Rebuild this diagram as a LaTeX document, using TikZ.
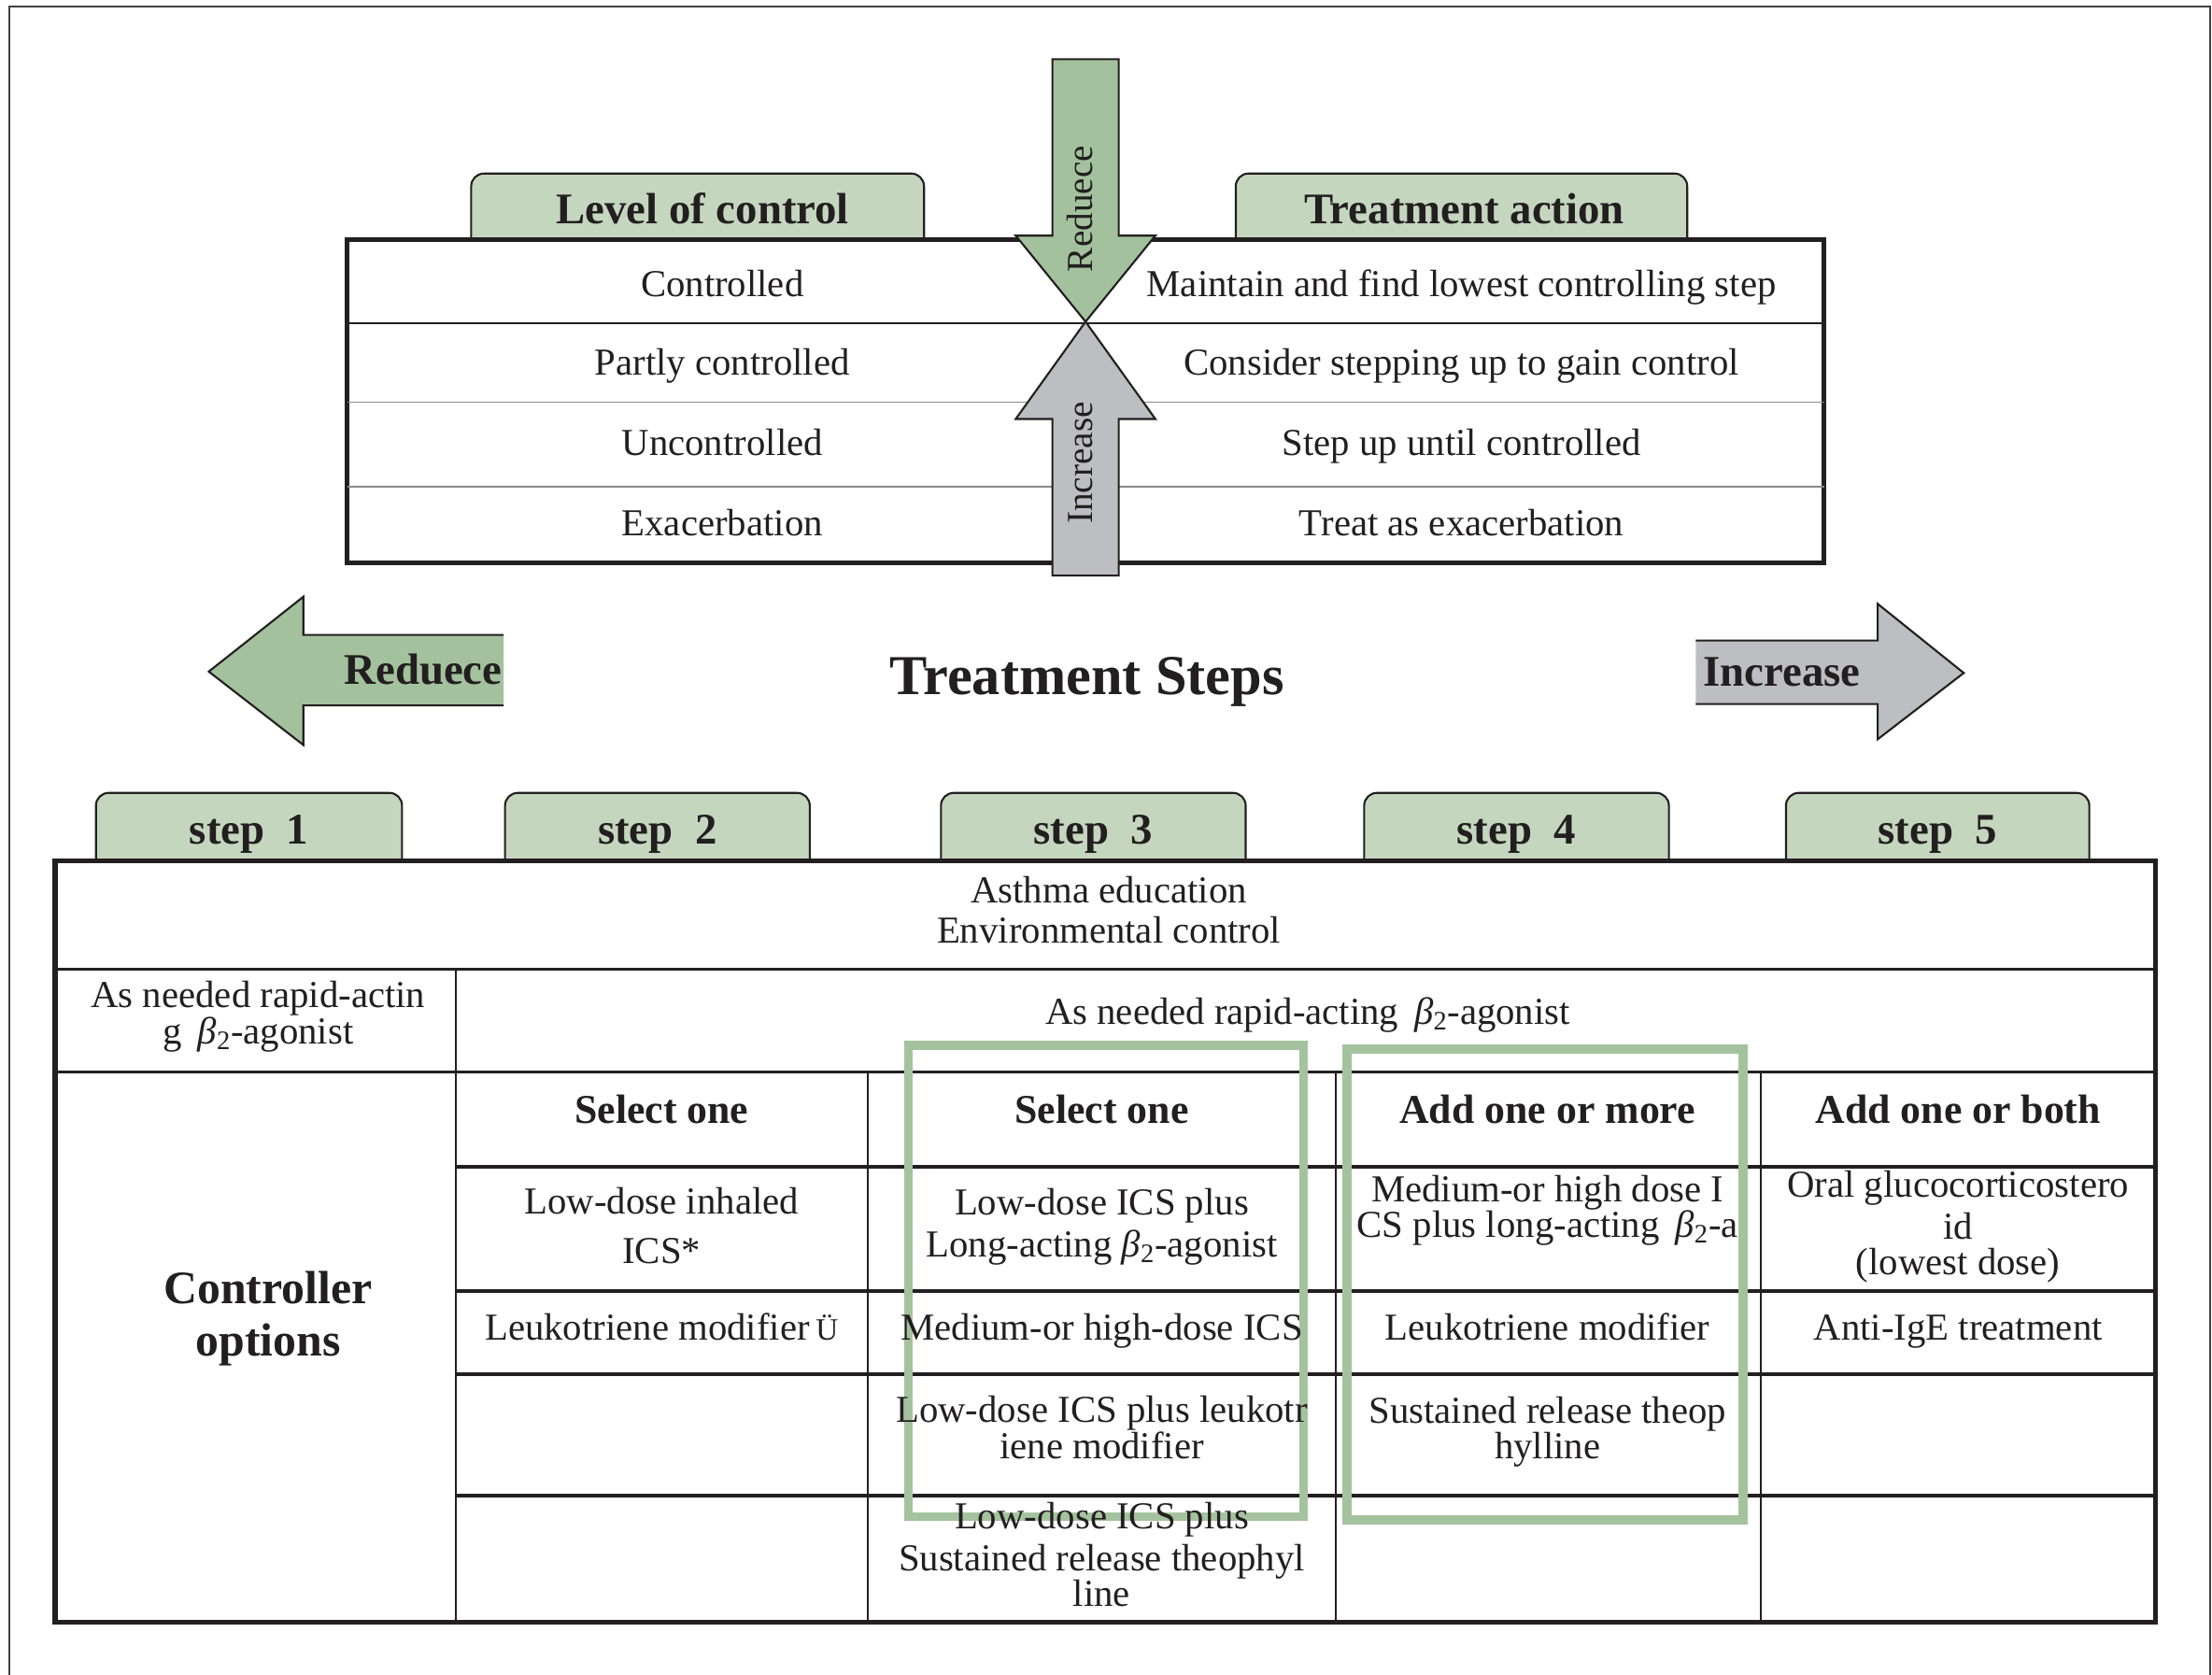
\documentclass[tikz,border=0pt]{standalone}
\usepackage{fontspec}
\setmainfont{Liberation Serif}
\definecolor{tabgreen}{HTML}{C5D6BF}
\definecolor{arrgreen}{HTML}{A3C19D}
\definecolor{arrgray}{HTML}{BDBEC2}
\definecolor{ink}{HTML}{231F20}
\definecolor{boxgreen}{HTML}{A5C29E}
\definecolor{midgray}{HTML}{8A8A8A}
\newcommand{\btwo}{\textit{β}\textsubscript{2}}
\tikzset{
  frame/.style={draw=black!75, line width=1.2pt},
  tabshape/.style={fill=tabgreen, draw=ink, line width=1.4pt, rounded corners=9pt},
  arrowshape/.style={draw=ink, line width=1.4pt},
  norm/.style={text=ink, inner sep=0pt, align=center, font=\fontsize{27}{29}\selectfont},
  oneline/.style={norm, text height=17.8pt, text depth=0pt},
  vlabel/.style={text=ink, inner sep=0pt, font=\fontsize{26}{28}\selectfont, text height=17.2pt, text depth=0pt, rotate=90},
  tabhdr/.style={text=ink, inner sep=0pt, font=\bfseries\fontsize{31}{33}\selectfont, text height=20.5pt, text depth=0pt},
  colhdr/.style={text=ink, inner sep=0pt, font=\bfseries\fontsize{29}{31}\selectfont, text height=19.1pt, text depth=0pt},
  hline/.style={draw=ink, line width=2.2pt},
  vline/.style={draw=ink, line width=1.5pt},
  greenbox/.style={draw=boxgreen, line width=6.5pt},
}
\begin{document}
\begin{tikzpicture}[x=1pt,y=-1pt]
\useasboundingbox (0,0) rectangle (1568,1187);
% outer frame (open at bottom)
\draw[frame] (6.6,1187) -- (6.6,4.6) -- (1566.6,4.6) -- (1566.6,1187);

% ---------- top table ----------
\filldraw[tabshape] (334,172) -- (334,123) -- (655,123) -- (655,172);
\filldraw[tabshape] (876,172) -- (876,123) -- (1196,123) -- (1196,172);
\filldraw[fill=white, draw=ink, line width=3pt] (246,170) rectangle (1293,399);
\draw[ink, line width=1pt] (246,229) -- (1293,229);
\draw[midgray, line width=1pt] (246,285) -- (1293,285);
\draw[midgray, line width=1pt] (246,345) -- (1293,345);

\filldraw[arrowshape, fill=arrgreen] (746,42) -- (793,42) -- (793,167) -- (819,167) -- (769.5,228) -- (720,167) -- (746,167) -- cycle;
\filldraw[arrowshape, fill=arrgray] (769.5,228) -- (819,297) -- (793,297) -- (793,408) -- (746,408) -- (746,297) -- (720,297) -- cycle;
\node[vlabel] (vred) at (766,148) {Reduece};
\node[vlabel] (vinc) at (766,328) {Increase};

\node[tabhdr] (loc) at (498,148) {Level of control};
\node[tabhdr] (ta) at (1038,148) {Treatment action};

\node[oneline] (l1) at (512,201) {Controlled};
\node[oneline] (l2) at (512,257) {Partly controlled};
\node[oneline] (l3) at (512,314) {Uncontrolled};
\node[oneline] (l4) at (512,371) {Exacerbation};
\node[oneline] (r1) at (1036,201) {Maintain and find lowest controlling step};
\node[oneline] (r2) at (1036,257) {Consider stepping up to gain control};
\node[oneline] (r3) at (1036,314) {Step up until controlled};
\node[oneline] (r4) at (1036,371) {Treat as exacerbation};

% ---------- middle arrows and title ----------
\filldraw[arrowshape, fill=arrgreen] (357,450) -- (215,450) -- (215,423) -- (148,476) -- (215,528) -- (215,500) -- (357,500);
\filldraw[arrowshape, fill=arrgray] (1202,454) -- (1331,454) -- (1331,428) -- (1392,477) -- (1331,524) -- (1331,499) -- (1202,499);
\node[tabhdr] (hred) at (300,475) {Reduece};
\node[tabhdr] (hinc) at (1263,476) {Increase};
\node[text=ink, inner sep=0pt, font=\bfseries\fontsize{40}{44}\selectfont, text height=26.4pt, text depth=0pt] (title) at (770.5,479) {Treatment Steps};

% ---------- step tabs ----------
\foreach \a/\b/\n in {68/285/1, 358/574/2, 667/883/3, 967/1183/4, 1266/1481/5}{
  \filldraw[tabshape] (\a,612) -- (\a,562) -- (\b,562) -- (\b,612);
}

% ---------- bottom table ----------
\filldraw[fill=white, draw=ink, line width=3.5pt] (39,610) rectangle (1528,1150);
\draw[hline] (39,687) -- (1528,687);
\draw[hline] (39,760) -- (1528,760);
\draw[vline] (323,687) -- (323,1150);
\foreach \y in {827,915,974,1060} \draw[hline] (323,\y) -- (1528,\y);
\foreach \x in {615,947,1248} \draw[vline] (\x,760) -- (\x,1150);

\draw[greenbox] (644,741) rectangle (924,1075);
\draw[greenbox] (955,743.5) rectangle (1235.5,1077.5);

\node[tabhdr] (step1) at (176.5,588) {step~~1};
\node[tabhdr] (step2) at (466,588) {step~~2};
\node[tabhdr] (step3) at (775,588) {step~~3};
\node[tabhdr] (step4) at (1075,588) {step~~4};
\node[tabhdr] (step5) at (1373.5,588) {step~~5};

\node[norm] (edu) at (786,645) {Asthma education\\Environmental control};
\node[norm, font=\fontsize{27}{24}\selectfont] (rapid1) at (183,720.6) {As needed rapid-actin\\g \,\btwo-agonist};
\node[oneline] (rapid2) at (927,717) {As needed rapid-acting \,\btwo-agonist};
\node[text=ink, inner sep=0pt, align=center, font=\bfseries\fontsize{33}{37}\selectfont] (ctrl) at (190,934.6) {Controller\\options};

\node[colhdr] (h1) at (469,787) {Select one};
\node[colhdr] (h2) at (781,787) {Select one};
\node[colhdr] (h3) at (1097,787) {Add one or more};
\node[colhdr] (h4) at (1388,787) {Add one or both};

\node[norm, font=\fontsize{27}{35}\selectfont] (c11) at (469,869) {Low-dose inhaled\\ICS*};
\node[norm, font=\fontsize{27}{30}\selectfont] (c12) at (781,869.6) {Low-dose ICS plus\\Long-acting \btwo-agonist};
\node[norm, font=\fontsize{27}{25}\selectfont] (c13) at (1097,858) {Medium-or high dose I\\CS plus long-acting \,\btwo-a};
\node[norm, font=\fontsize{27}{30}\selectfont] (c14) at (1388,869.5) {Oral glucocorticostero\\id\\[-5pt](lowest dose)};

\node[oneline] (c21) at (469,941) {Leukotriene modifier\,{\fontsize{22}{22}\selectfont Ü}};
\node[oneline] (c22) at (781,941) {Medium-or high-dose ICS};
\node[oneline] (c23) at (1097,941) {Leukotriene modifier};
\node[oneline] (c24) at (1388,941) {Anti-IgE treatment};

\node[norm, font=\fontsize{27}{23}\selectfont] (c32) at (781,1012) {Low-dose ICS plus leukotr\\iene modifier};
\node[norm, font=\fontsize{27}{23}\selectfont] (c33) at (1097,1015) {Sustained release theop\\hylline};

\node[norm, font=\fontsize{27}{30}\selectfont] (c42) at (781,1102) {Low-dose ICS plus\\Sustained release theophyl\\[-5pt]line};
\end{tikzpicture}
\end{document}
